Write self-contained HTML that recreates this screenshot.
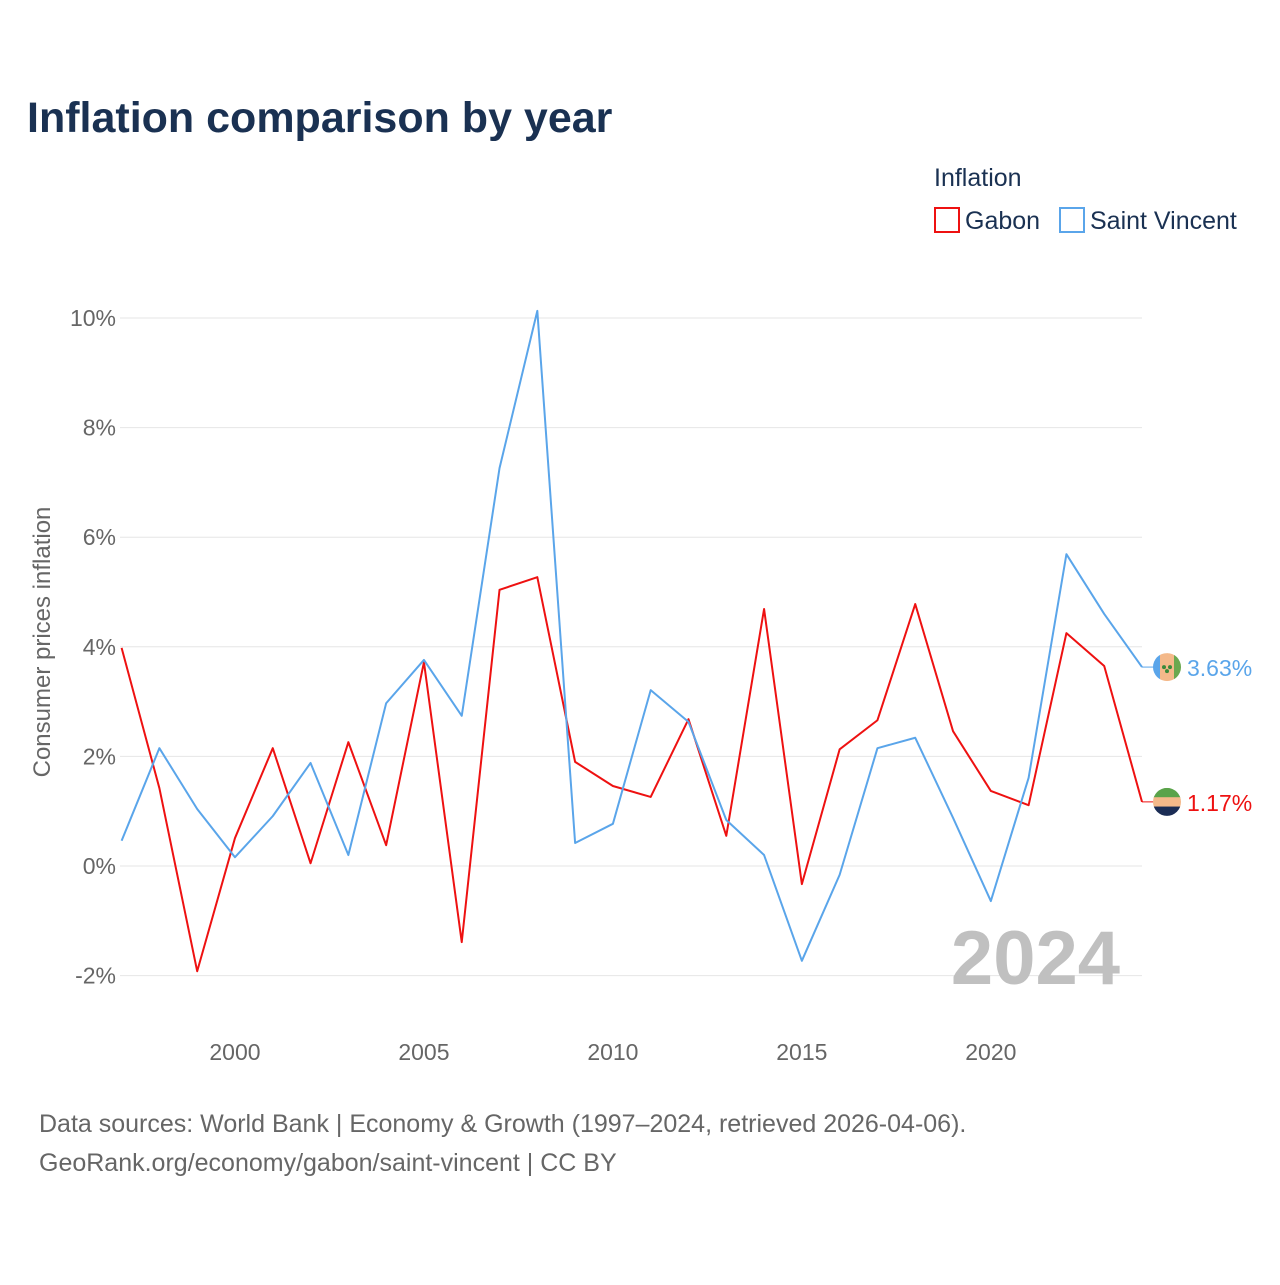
<!DOCTYPE html>
<html><head><meta charset="utf-8"><style>
body{margin:0;background:#fff;font-family:"Liberation Sans",sans-serif;}
svg text{font-family:"Liberation Sans",sans-serif;}
</style></head><body>
<svg id="chart" width="1280" height="1280" viewBox="0 0 1280 1280" xmlns="http://www.w3.org/2000/svg">
<rect width="1280" height="1280" fill="#fff"/>
<text x="27" y="132" font-size="43" font-weight="bold" fill="#1a3152">Inflation comparison by year</text>
<text x="934" y="186" font-size="25" fill="#1a3152">Inflation</text>
<g><rect x="935" y="208" width="24" height="24" fill="none" stroke="#ee1111" stroke-width="2"/><text x="965" y="229" font-size="25" fill="#1a3152">Gabon</text></g>
<g><rect x="1060" y="208" width="24" height="24" fill="none" stroke="#5aa5ea" stroke-width="2"/><text x="1090" y="229" font-size="25" fill="#1a3152">Saint Vincent</text></g>
<text transform="translate(50,642) rotate(-90)" text-anchor="middle" font-size="24" fill="#666">Consumer prices inflation</text>
<g id="grid"></g><g id="ticks"></g><g id="lines"></g><g id="ends"></g>
<text x="1120" y="984" text-anchor="end" font-size="76" font-weight="bold" fill="#c0c0c0">2024</text>
<text x="39" y="1132" font-size="25" fill="#666">Data sources: World Bank | Economy &amp; Growth (1997–2024, retrieved 2026-04-06).</text>
<text x="39" y="1171" font-size="25" fill="#666">GeoRank.org/economy/gabon/saint-vincent | CC BY</text>
</svg>
<script>
const years=[1997,1998,1999,2000,2001,2002,2003,2004,2005,2006,2007,2008,2009,2010,2011,2012,2013,2014,2015,2016,2017,2018,2019,2020,2021,2022,2023,2024];
const gabon=[3.98,1.42,-1.92,0.51,2.15,0.05,2.26,0.38,3.72,-1.39,5.04,5.27,1.90,1.46,1.26,2.68,0.55,4.69,-0.33,2.13,2.66,4.78,2.46,1.37,1.11,4.25,3.65,1.17];
const saintVincent=[0.46,2.15,1.04,0.16,0.91,1.88,0.2,2.97,3.76,2.74,7.26,10.13,0.42,0.77,3.21,2.63,0.84,0.2,-1.73,-0.16,2.15,2.34,0.88,-0.64,1.61,5.69,4.6,3.63];
const yTicks=[-2,0,2,4,6,8,10];
const xTicks=[2000,2005,2010,2015,2020];
const NS="http://www.w3.org/2000/svg";
const x=v=>121.6+(v-1997)*(1142-121.6)/27;
const y=v=>866-v*54.8;
function mk(t,a,p){const e=document.createElementNS(NS,t);for(const k in a)e.setAttribute(k,a[k]);p.appendChild(e);return e;}
const grid=document.getElementById('grid'),ticks=document.getElementById('ticks'),lines=document.getElementById('lines'),ends=document.getElementById('ends');
yTicks.forEach(v=>{
 const l=mk('line',{x1:120,x2:1142,y1:y(v),y2:y(v),stroke:'#e6e6e6','stroke-width':1},grid);
 
 
 const t=mk('text',{x:116,y:y(v)+8,'text-anchor':'end','font-size':23,fill:'#666'},ticks);
 t.textContent=v+'%';
 
 
});
xTicks.forEach(v=>{
 const t=mk('text',{x:x(v),y:1060,'text-anchor':'middle','font-size':23,fill:'#666'},ticks);
 t.textContent=v;
 
 
});
function series(vals,color,name,stripes,vertical){
 const pts=vals.map((v,i)=>x(years[i])+','+y(v)).join(' ');
 const p=mk('polyline',{points:pts,fill:'none',stroke:color,'stroke-width':2,'stroke-linejoin':'round'},lines);
 
 
 const last=vals[vals.length-1],ly=y(last);
 mk('line',{x1:x(2024),x2:1154,y1:ly,y2:ly,stroke:color,'stroke-width':1},ends);
 const g=mk('g',{},ends);
 
 
 const cp=mk('clipPath',{id:'c'+name},g);
 mk('circle',{cx:1167,cy:ly,r:14},cp);
 const n=stripes.length;
 stripes.forEach((c,i)=>{
  if(vertical) mk('rect',{x:1153+i*28/n,y:ly-14,width:28/n+0.5,height:28,fill:c,'clip-path':'url(#c'+name+')'},g);
  else mk('rect',{x:1153,y:ly-14+i*28/n,width:28,height:28/n+0.5,fill:c,'clip-path':'url(#c'+name+')'},g);
 });
 if(vertical){mk('circle',{cx:1164,cy:ly,r:2,fill:'#3a8a3a'},g);mk('circle',{cx:1170,cy:ly,r:2,fill:'#3a8a3a'},g);mk('circle',{cx:1167,cy:ly+4,r:2,fill:'#3a8a3a'},g);}
 const t=mk('text',{x:1187,y:ly+9,'font-size':23,fill:color},ends);
 t.textContent=last.toFixed(2)+'%';
 
 
}
series(gabon,'#ee1111','gabon',['#5aa34a','#f4b98a','#1b2d55'],false);
series(saintVincent,'#5aa5ea','saint-vincent',['#5aa5ea','#f4b98a','#f4b98a','#6aa84f'],true);
</script>
</body></html>
